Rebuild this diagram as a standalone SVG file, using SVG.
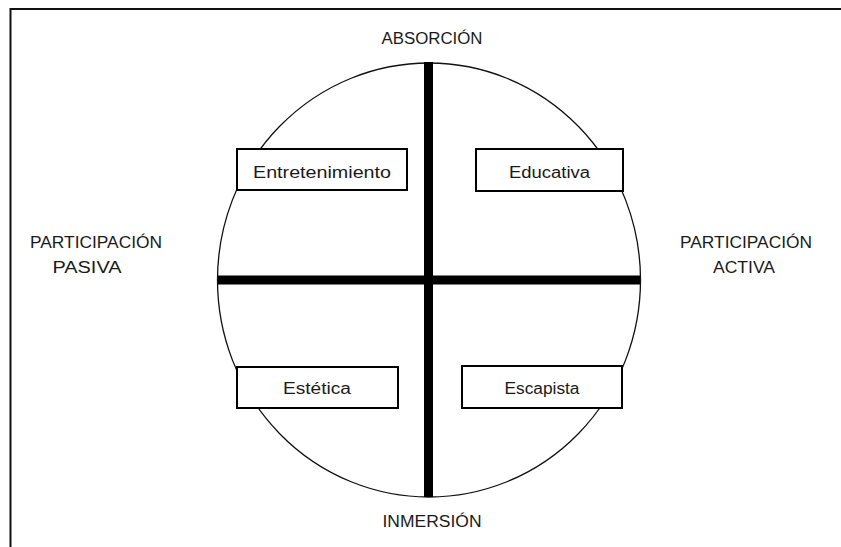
<svg xmlns="http://www.w3.org/2000/svg" width="841" height="547" viewBox="0 0 841 547">
  <style>
    .lbl { font-family: "Liberation Sans", Arial, sans-serif; font-size: 16px; fill: #1a1a1a; text-anchor: middle; }
    .box { fill: #ffffff; stroke: #000000; stroke-width: 2; }
    .axis { stroke: #000000; stroke-width: 9; }
  </style>
  <rect width="841" height="547" fill="#ffffff"/>
  <!-- frame: top and left edges -->
  <path d="M10.5 547 V9 H841" fill="none" stroke="#111111" stroke-width="2"/>

  <!-- outer circle -->
  <ellipse id="circle" cx="429" cy="280" rx="211.5" ry="217" fill="none" stroke="#111111" stroke-width="1.3"/>

  <!-- axes -->
  <g id="connectors">
    <line class="axis" x1="428.5" y1="62" x2="428.5" y2="497"/>
    <line class="axis" x1="218" y1="280" x2="640" y2="280"/>
  </g>

  <!-- axis labels -->
  <g id="absorcion"><text class="lbl" x="432" y="44" textLength="101" lengthAdjust="spacingAndGlyphs">ABSORCIÓN</text></g>
  <g id="inmersion"><text class="lbl" x="432" y="527" textLength="99" lengthAdjust="spacingAndGlyphs">INMERSIÓN</text></g>
  <g id="pasiva">
    <text class="lbl" x="96" y="248" textLength="132" lengthAdjust="spacingAndGlyphs">PARTICIPACIÓN</text>
    <text class="lbl" x="87" y="273" textLength="69" lengthAdjust="spacingAndGlyphs">PASIVA</text>
  </g>
  <g id="activa">
    <text class="lbl" x="746" y="248" textLength="132" lengthAdjust="spacingAndGlyphs">PARTICIPACIÓN</text>
    <text class="lbl" x="744" y="273" textLength="62" lengthAdjust="spacingAndGlyphs">ACTIVA</text>
  </g>

  <!-- quadrant boxes -->
  <g id="entretenimiento">
    <rect class="box" x="237" y="149" width="170" height="41"/>
    <text class="lbl" x="322" y="178" textLength="138" lengthAdjust="spacingAndGlyphs">Entretenimiento</text>
  </g>
  <g id="educativa">
    <rect class="box" x="476" y="149" width="147" height="42"/>
    <text class="lbl" x="549.5" y="178" textLength="81" lengthAdjust="spacingAndGlyphs">Educativa</text>
  </g>
  <g id="estetica">
    <rect class="box" x="237" y="367" width="161" height="41"/>
    <text class="lbl" x="317" y="394" textLength="68" lengthAdjust="spacingAndGlyphs">Estética</text>
  </g>
  <g id="escapista">
    <rect class="box" x="462" y="366" width="160" height="42"/>
    <text class="lbl" x="542" y="394" textLength="75" lengthAdjust="spacingAndGlyphs">Escapista</text>
  </g>
</svg>
